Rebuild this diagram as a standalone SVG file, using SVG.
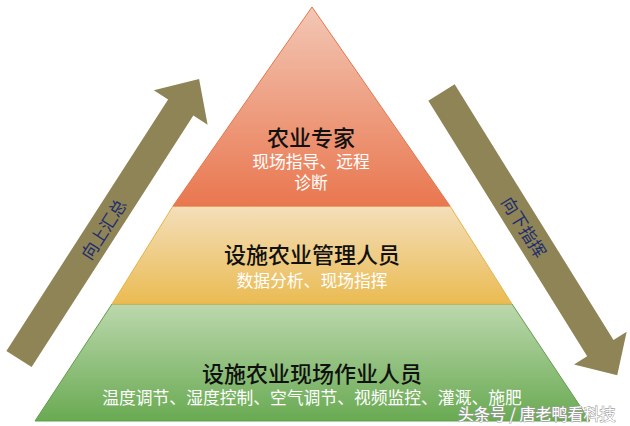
<svg xmlns="http://www.w3.org/2000/svg" width="630" height="426" viewBox="0 0 630 426">
  <defs>
    <linearGradient id="g1" x1="0" y1="0" x2="0" y2="1">
      <stop offset="0" stop-color="#f3c7b5"/>
      <stop offset="1" stop-color="#e9774f"/>
    </linearGradient>
    <linearGradient id="g2" x1="0" y1="0" x2="0" y2="1">
      <stop offset="0" stop-color="#f4dfbb"/>
      <stop offset="1" stop-color="#eabb52"/>
    </linearGradient>
    <linearGradient id="g3" x1="0" y1="0" x2="0" y2="1">
      <stop offset="0" stop-color="#bcd8ad"/>
      <stop offset="1" stop-color="#69aa52"/>
    </linearGradient>
    <style>
      .cjk { font-family: "Noto Sans CJK SC", "Noto Sans", sans-serif; text-anchor: middle; }
      .title { font-size: 22px; font-weight: 500; fill: #111111; }
      .sub { font-size: 16.8px; fill: #ffffff; }
      .arrow { fill: #8e8456; }
      .atext { font-size: 17px; fill: #1f2d6e; dominant-baseline: central; }
      .wm { font-size: 16px; fill: #ffffff; stroke: #a0a0a0; stroke-width: 1.1px; paint-order: stroke; text-anchor: start; }
    </style>
  </defs>
  <rect width="630" height="426" fill="#ffffff"/>

  <g id="tier-bottom">
    <polygon points="112,304 512,304 590,421 35,421" fill="url(#g3)" stroke="#5f9f4a" stroke-width="1"/>
    <text class="cjk title" x="312" y="382">设施农业现场作业人员</text>
    <text class="cjk sub" x="312" y="404">温度调节、湿度控制、空气调节、视频监控、灌溉、施肥</text>
  </g>

  <g id="tier-middle">
    <polygon points="173,206 450,206 512,304 112,304" fill="url(#g2)" stroke="#e6b446" stroke-width="1"/>
    <text class="cjk title" x="312" y="263">设施农业管理人员</text>
    <text class="cjk sub" x="312" y="287">数据分析、现场指挥</text>
  </g>

  <g id="tier-top">
    <polygon points="312,7 450,206 173,206" fill="url(#g1)" stroke="#e5764c" stroke-width="1"/>
    <text class="cjk title" x="311" y="146">农业专家</text>
    <text class="cjk sub" x="311" y="168">现场指导、远程</text>
    <text class="cjk sub" x="311" y="189">诊断</text>
  </g>

  <g id="connectors">
    <g id="arrow-up" transform="translate(19,359) rotate(-57.26)">
      <polygon class="arrow" points="0,-15 299,-15 299,-32 333,0 299,32 299,15 0,15"/>
      <text class="cjk atext" x="155" y="0">向上汇总</text>
    </g>
    <g id="arrow-down" transform="translate(441.5,92.5) rotate(58.15)">
      <polygon class="arrow" points="0,-15.5 301,-15.5 301,-31 333,0 301,31 301,15.5 0,15.5"/>
      <text class="cjk atext" x="158" y="0">向下指挥</text>
    </g>
  </g>

  <text class="cjk wm" x="458" y="420">头条号 / 唐老鸭看科技</text>
</svg>
